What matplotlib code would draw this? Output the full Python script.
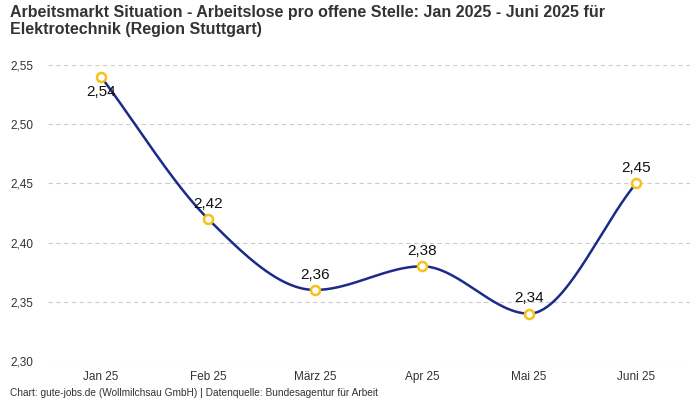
import numpy as np
import matplotlib
matplotlib.use("Agg")
import matplotlib.pyplot as plt
from matplotlib.ticker import FuncFormatter

categories = ["Jan 25", "Feb 25", "März 25", "Apr 25", "Mai 25", "Juni 25"]
values = [2.54, 2.42, 2.36, 2.38, 2.34, 2.45]
yticks = [2.30, 2.35, 2.40, 2.45, 2.50, 2.55]

plt.rcParams['font.family'] = ['Liberation Sans', 'DejaVu Sans']


def monotone(x, y, n=60):
    x = np.asarray(x, float); y = np.asarray(y, float)
    d = np.diff(y) / np.diff(x)
    m = np.zeros_like(y)
    m[0] = d[0]; m[-1] = d[-1]
    for i in range(1, len(y) - 1):
        m[i] = 0 if d[i-1] * d[i] <= 0 else (d[i-1] + d[i]) / 2
    for i in range(len(d)):
        if d[i] == 0:
            m[i] = m[i+1] = 0
            continue
        a = m[i] / d[i]; b = m[i+1] / d[i]
        s = a*a + b*b
        if s > 9:
            t = 3 / np.sqrt(s)
            m[i] = t * a * d[i]; m[i+1] = t * b * d[i]
    xs, ys = [], []
    for i in range(len(d)):
        h = x[i+1] - x[i]
        t = np.linspace(0, 1, n)
        h00 = 2*t**3 - 3*t**2 + 1; h10 = t**3 - 2*t**2 + t
        h01 = -2*t**3 + 3*t**2; h11 = t**3 - t**2
        xs.append(x[i] + t*h)
        ys.append(h00*y[i] + h10*h*m[i] + h01*y[i+1] + h11*h*m[i+1])
    return np.concatenate(xs), np.concatenate(ys)


fig = plt.figure(figsize=(7, 4), dpi=100)
ax = fig.add_axes([0.068, 0.0975, 0.917, 0.74])
xi = np.arange(len(values))
sx, sy = monotone(xi, values)
ax.plot(sx, sy, color="#1c2a8a", lw=1.8, zorder=2)
ax.plot(xi, values, 'o', ms=6.5, mfc='white', mec='#f5c21b', mew=1.8, zorder=3)
for i, v in enumerate(values):
    lab = f"{v:.2f}".replace('.', ',')
    if i == 0:
        ax.annotate(lab, (i, v), xytext=(0, -11), textcoords='offset points',
                    ha='center', va='center', fontsize=11, color='#111111')
    else:
        ax.annotate(lab, (i, v), xytext=(0, 11), textcoords='offset points',
                    ha='center', va='center', fontsize=11, color='#111111')

ax.set_xlim(-0.5, 5.5)
ax.set_ylim(2.30, 2.55)
ax.set_yticks(yticks)
ax.yaxis.set_major_formatter(FuncFormatter(lambda v, p: f"{v:.2f}".replace('.', ',')))
ax.set_xticks(xi)
ax.set_xticklabels(categories)
ax.tick_params(length=0, labelsize=8.5, colors='#333333')
ax.tick_params(axis='x', pad=7)
ax.tick_params(axis='y', pad=10)
ax.grid(axis='y', color='#cccccc', ls=(0, (4, 3)), lw=0.8)
for s in ax.spines.values():
    s.set_visible(False)

fig.text(0.014, 0.988, "Arbeitsmarkt Situation - Arbeitslose pro offene Stelle: Jan 2025 - Juni 2025 für\nElektrotechnik (Region Stuttgart)",
         ha='left', va='top', fontsize=11.5, fontweight='bold', color='#333333', linespacing=1.2)
fig.text(0.014, 0.0175, "Chart: gute-jobs.de (Wollmilchsau GmbH) | Datenquelle: Bundesagentur für Arbeit",
         ha='left', va='center', fontsize=7.3, color='#333333')

fig.savefig("out.png", dpi=100)
